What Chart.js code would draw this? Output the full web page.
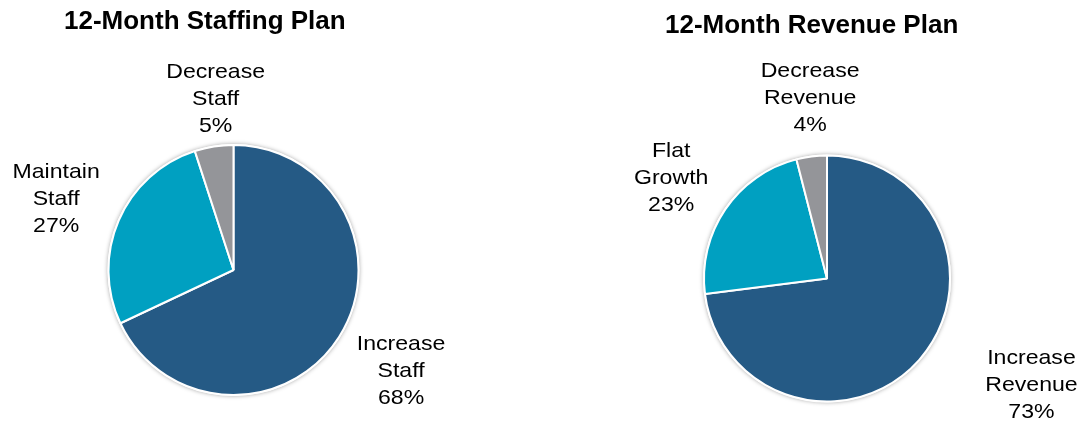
<!DOCTYPE html>
<html>
<head>
<meta charset="utf-8">
<title>12-Month Plans</title>
<script src="https://cdn.jsdelivr.net/npm/chart.js@4.4.1/dist/chart.umd.min.js"></script>
<style>
  html, body { margin: 0; padding: 0; background: #fff; }
  #wrap { position: relative; width: 1086px; height: 422px; overflow: hidden; }
  canvas { position: absolute; top: 0; }
  #staff { left: 0; }
  #revenue { left: 543px; }
</style>
</head>
<body>
<div id="wrap">
  <canvas id="staff" width="543" height="422"></canvas>
  <canvas id="revenue" width="543" height="422"></canvas>
</div>
<script>
// Survey results, percent of respondents
const staffTitle = '12-Month Staffing Plan';
const staffCategories = ['Increase Staff', 'Maintain Staff', 'Decrease Staff'];
const staffValues = [68, 27, 5];

const revenueTitle = '12-Month Revenue Plan';
const revenueCategories = ['Increase Revenue', 'Flat Growth', 'Decrease Revenue'];
const revenueValues = [73, 23, 4];

const sliceColors = ['#255A85', '#00A0C1', '#949599'];
const fontFamily = '"Liberation Sans", Arial, Helvetica, sans-serif';

// Soft halo drawn behind the pie
const pieShadow = {
  id: 'pieShadow',
  beforeDatasetsDraw(chart) {
    const arc = chart.getDatasetMeta(0).data[0];
    if (!arc) return;
    const { x, y, outerRadius } = arc.getProps(['x', 'y', 'outerRadius'], true);
    const ctx = chart.ctx;
    ctx.save();
    ctx.beginPath();
    ctx.arc(x, y, outerRadius + 1, 0, Math.PI * 2);
    ctx.fillStyle = '#ffffff';
    ctx.shadowColor = 'rgba(0,0,0,0.35)';
    ctx.shadowBlur = 4;
    ctx.fill();
    ctx.restore();
  }
};

// Three-line category / percent labels placed outside each slice
const sliceLabels = {
  id: 'sliceLabels',
  afterDatasetsDraw(chart, args, opts) {
    const ctx = chart.ctx;
    const meta = chart.getDatasetMeta(0);
    const labels = chart.data.labels;
    const values = chart.data.datasets[0].data;
    ctx.save();
    ctx.fillStyle = opts.color;
    ctx.font = opts.size + 'px ' + fontFamily;
    ctx.textAlign = 'center';
    ctx.textBaseline = 'alphabetic';
    meta.data.forEach((arc, i) => {
      const p = arc.getProps(['x', 'y', 'startAngle', 'endAngle', 'outerRadius'], true);
      const place = opts.placement[i];
      const a = (p.startAngle + p.endAngle) / 2 + place.shift * Math.PI / 180;
      const d = (p.outerRadius + 1) * place.dist;
      const cx = p.x + Math.cos(a) * d;
      const cy = p.y + Math.sin(a) * d;
      const lines = labels[i].split(' ').concat(values[i] + '%');
      const mid = (lines.length - 1) / 2;
      lines.forEach((t, k) => {
        ctx.save();
        ctx.translate(cx, cy + (k - mid) * opts.lineHeight + opts.capHalf);
        ctx.scale(opts.stretch, 1);
        ctx.fillText(t, 0, 0);
        ctx.restore();
      });
    });
    ctx.restore();
  }
};

function makePie(id, title, categories, values, cfg) {
  return new Chart(document.getElementById(id), {
    type: 'pie',
    data: {
      labels: categories,
      datasets: [{
        data: values,
        backgroundColor: sliceColors,
        borderColor: '#ffffff',
        borderWidth: 2,
        radius: cfg.radius,
        clip: false
      }]
    },
    options: {
      responsive: false,
      animation: false,
      events: [],
      layout: { padding: cfg.padding },
      plugins: {
        legend: { display: false },
        tooltip: { enabled: false },
        title: {
          display: true,
          text: title,
          align: 'start',
          color: '#000000',
          font: { family: fontFamily, size: 26, weight: 'bold', lineHeight: 1.2 },
          padding: cfg.titlePadding
        },
        sliceLabels: {
          color: '#000000',
          size: 21,
          stretch: 1.1,
          lineHeight: 27,
          capHalf: 7.5,
          placement: cfg.placement
        }
      }
    },
    plugins: [pieShadow, sliceLabels]
  });
}

makePie('staff', staffTitle, staffCategories, staffValues, {
  radius: 125,
  padding: { left: 64, right: 140, top: 0, bottom: 0 },
  titlePadding: { top: 6.4, bottom: 80.4 },
  placement: [
    { dist: 1.545, shift: -1.8 },
    { dist: 1.52, shift: -1.2 },
    { dist: 1.38, shift: 3.1 }
  ]
});

makePie('revenue', revenueTitle, revenueCategories, revenueValues, {
  radius: 123,
  padding: { left: 122, right: 97, top: 0, bottom: 0 },
  titlePadding: { top: 10.3, bottom: 93.5 },
  placement: [
    { dist: 1.852, shift: -14.3 },
    { dist: 1.50, shift: -1.1 },
    { dist: 1.474, shift: 1.9 }
  ]
});
</script>
</body>
</html>
